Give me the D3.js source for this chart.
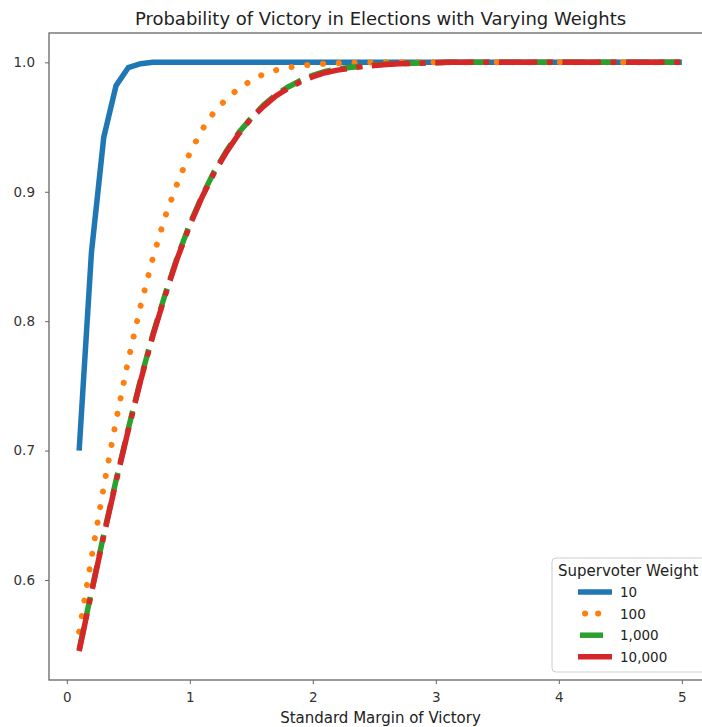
<!DOCTYPE html>
<html>
<head>
<meta charset="utf-8">
<script src="https://cdn.jsdelivr.net/npm/d3@7"></script>
<style>
  body { margin: 0; background: #fff; }
  svg { display: block; font-family: "DejaVu Sans", sans-serif; }
</style>
</head>
<body>
<svg width="702" height="727"></svg>
<script>
// Data
const margins = [0.1, 0.2, 0.3, 0.4, 0.5, 0.6, 0.7, 0.8, 0.9, 1.0,
    1.1, 1.2, 1.3, 1.4, 1.5, 1.6, 1.7, 1.8, 1.9, 2.0,
    2.1, 2.2, 2.3, 2.4, 2.5, 2.6, 2.7, 2.8, 2.9, 3.0,
    3.1, 3.2, 3.3, 3.4, 3.5, 3.6, 3.7, 3.8, 3.9, 4.0,
    4.1, 4.2, 4.3, 4.4, 4.5, 4.6, 4.7, 4.8, 4.9, 5.0];

const weights = ["10", "100", "1,000", "10,000"];

const win10 = [0.700, 0.853, 0.942, 0.982, 0.996, 0.999, 1.000, 1.000, 1.000, 1.000,
    1.000, 1.000, 1.000, 1.000, 1.000, 1.000, 1.000, 1.000, 1.000, 1.000,
    1.000, 1.000, 1.000, 1.000, 1.000, 1.000, 1.000, 1.000, 1.000, 1.000,
    1.000, 1.000, 1.000, 1.000, 1.000, 1.000, 1.000, 1.000, 1.000, 1.000,
    1.000, 1.000, 1.000, 1.000, 1.000, 1.000, 1.000, 1.000, 1.000, 1.000];

const win100 = [0.560, 0.617, 0.672, 0.723, 0.770, 0.812, 0.849, 0.881, 0.907, 0.930,
    0.948, 0.962, 0.972, 0.980, 0.986, 0.991, 0.994, 0.996, 0.9975, 0.9985,
    0.999, 0.9994, 0.9996, 0.9998, 1.000, 1.000, 1.000, 1.000, 1.000, 1.000,
    1.000, 1.000, 1.000, 1.000, 1.000, 1.000, 1.000, 1.000, 1.000, 1.000,
    1.000, 1.000, 1.000, 1.000, 1.000, 1.000, 1.000, 1.000, 1.000, 1.000];

const win1000 = [0.546, 0.591, 0.635, 0.677, 0.717, 0.755, 0.790, 0.821, 0.850, 0.875,
    0.897, 0.916, 0.932, 0.946, 0.957, 0.967, 0.975, 0.981, 0.986, 0.990,
    0.993, 0.995, 0.996, 0.997, 0.998, 0.9987, 0.9991, 0.9994, 0.9996, 0.9997,
    1.000, 1.000, 1.000, 1.000, 1.000, 1.000, 1.000, 1.000, 1.000, 1.000,
    1.000, 1.000, 1.000, 1.000, 1.000, 1.000, 1.000, 1.000, 1.000, 1.000];

const win10000 = [0.545, 0.590, 0.634, 0.676, 0.716, 0.754, 0.789, 0.820, 0.849, 0.874,
    0.896, 0.915, 0.931, 0.945, 0.957, 0.966, 0.974, 0.980, 0.985, 0.989,
    0.992, 0.994, 0.9955, 0.9967, 0.9976, 0.9983, 0.9989, 0.9992, 0.9995, 0.9997,
    1.000, 1.000, 1.000, 1.000, 1.000, 1.000, 1.000, 1.000, 1.000, 1.000,
    1.000, 1.000, 1.000, 1.000, 1.000, 1.000, 1.000, 1.000, 1.000, 1.000];

const xTicks = [0, 1, 2, 3, 4, 5];
const yTicks = [0.6, 0.7, 0.8, 0.9, 1.0];

const svg = d3.select("svg");

// axes box (right edge runs past the picture)
const plotLeft = 49, plotRight = 712, plotTop = 33, plotBottom = 680;

const x = d3.scaleLinear().domain([-0.145, 5.245]).range([plotLeft, plotRight]);
const y = d3.scaleLinear().domain([0.5227, 1.0227]).range([plotBottom, plotTop]);

// legend handles: start / end x for each entry
const series = [
    { name: weights[0], values: win10, color: "#1f77b4", dash: null, cap: "butt", h: [578, 612] },
    { name: weights[1], values: win100, color: "#ff7f0e", dash: "0.1,15.7", cap: "round", h: [585, 600] },
    { name: weights[2], values: win1000, color: "#2ca02c", dash: "22.2,9.6", cap: "butt", h: [580, 603] },
    { name: weights[3], values: win10000, color: "#d62728", dash: "38.4,9.6,6,9.6", cap: "butt", h: [578, 612] }
];

const line = d3.line()
    .x((d, i) => x(margins[i]))
    .y((d) => y(d));

svg.append("g")
    .selectAll("path")
    .data(series)
    .enter()
    .append("path")
    .attr("d", (d) => line(d.values))
    .attr("fill", "none")
    .attr("stroke", (d) => d.color)
    .attr("stroke-width", (d) => (d.cap === "round" ? 6 : 5.5))
    .attr("stroke-linecap", (d) => d.cap)
    .attr("stroke-dasharray", (d) => d.dash);

// spines
svg.append("rect")
    .attr("x", plotLeft)
    .attr("y", plotTop)
    .attr("width", plotRight - plotLeft)
    .attr("height", plotBottom - plotTop)
    .attr("fill", "none")
    .attr("stroke", "#666")
    .attr("stroke-width", 1.3);

// axes
const xAxis = svg.append("g")
    .attr("transform", "translate(0," + plotBottom + ")")
    .call(d3.axisBottom(x).tickValues(xTicks).tickFormat(d3.format("d")).tickSize(4).tickPadding(8));
const yAxis = svg.append("g")
    .attr("transform", "translate(" + plotLeft + ",0)")
    .call(d3.axisLeft(y).tickValues(yTicks).tickFormat(d3.format(".1f")).tickSize(4).tickPadding(10));

[xAxis, yAxis].forEach((g) => {
    g.select(".domain").remove();
    g.selectAll("line").attr("stroke", "#666");
    g.selectAll("text")
        .attr("fill", "#333")
        .style("font-size", "13.5px")
        .style("font-family", "DejaVu Sans, sans-serif");
});

// titles
svg.append("text")
    .attr("x", (plotLeft + plotRight) / 2)
    .attr("y", 25)
    .attr("text-anchor", "middle")
    .attr("fill", "#222")
    .style("font-size", "18px")
    .text("Probability of Victory in Elections with Varying Weights");

svg.append("text")
    .attr("x", (plotLeft + plotRight) / 2)
    .attr("y", 723)
    .attr("text-anchor", "middle")
    .attr("fill", "#222")
    .style("font-size", "15px")
    .text("Standard Margin of Victory");

// legend
const legend = svg.append("g");
legend.append("rect")
    .attr("x", 552)
    .attr("y", 558)
    .attr("width", 160)
    .attr("height", 114)
    .attr("rx", 4)
    .attr("fill", "#fff")
    .attr("fill-opacity", 0.8)
    .attr("stroke", "#ccc");

legend.append("text")
    .attr("x", 558)
    .attr("y", 576)
    .attr("fill", "#222")
    .style("font-size", "15px")
    .text("Supervoter Weight");

const item = legend.selectAll(".item")
    .data(series)
    .enter()
    .append("g")
    .attr("class", "item")
    .attr("transform", (d, i) => "translate(0," + (592 + i * 21.6) + ")");

item.append("line")
    .attr("x1", (d) => d.h[0])
    .attr("x2", (d) => d.h[1])
    .attr("stroke", (d) => d.color)
    .attr("stroke-width", (d) => (d.cap === "round" ? 6 : 5.5))
    .attr("stroke-linecap", (d) => d.cap)
    .attr("stroke-dasharray", (d) => (d.cap === "round" ? "0.1,13" : null));

item.append("text")
    .attr("x", 620)
    .attr("y", 5)
    .attr("fill", "#222")
    .style("font-size", "13.5px")
    .text((d) => d.name);
</script>
</body>
</html>
